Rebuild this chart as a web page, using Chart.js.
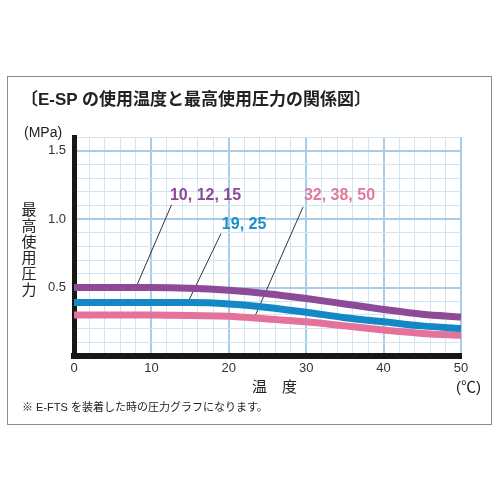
<!DOCTYPE html>
<html>
<head>
<meta charset="utf-8">
<script src="https://cdn.jsdelivr.net/npm/chart.js@4"></script>
<style>
    body { margin: 0; background: #fff; font-family: 'Liberation Sans', 'Noto Sans CJK JP', sans-serif; color: #222; }
    #wrap { position: relative; width: 500px; height: 500px; overflow: hidden; }
    #frame { position: absolute; left: 7px; top: 76px; width: 483px; height: 347px; border: 1px solid #8c8c8c; }
    canvas { position: absolute; left: 0; top: 0; }
    .txt { position: absolute; white-space: nowrap; line-height: 1; }
    #title { left: 21px; top: 91px; font-size: 17px; font-weight: bold; color: #222; }
    #unitY { left: 24px; top: 125px; font-size: 14px; }
    #nameY { left: 21px; top: 202px; font-size: 15px; line-height: 16px; width: 16px; text-align: center; white-space: normal; }
    #nameX { left: 252px; top: 379px; font-size: 15px; }
    #unitX { left: 456px; top: 379px; font-size: 15px; }
    #note { left: 22px; top: 402px; font-size: 11px; }
</style>
</head>
<body>
<div id="wrap">
    <div id="frame"></div>
    <canvas id="chart" width="500" height="500"></canvas>
    <div class="txt" id="title">〔E-SP の使用温度と最高使用圧力の関係図〕</div>
    <div class="txt" id="unitY">(MPa)</div>
    <div class="txt" id="nameY">最<br>高<br>使<br>用<br>圧<br>力</div>
    <div class="txt" id="nameX">温　度</div>
    <div class="txt" id="unitX">(℃)</div>
    <div class="txt" id="note">※ E-FTS を装着した時の圧力グラフになります。</div>
</div>
<script>
// Chart data
const temps = [0, 5, 10, 15, 20, 25, 30, 35, 40, 45, 50];
const pressureSmall = [0.50, 0.50, 0.50, 0.495, 0.48, 0.455, 0.42, 0.38, 0.34, 0.305, 0.285];   // 10, 12, 15
const pressureMid = [0.39, 0.39, 0.39, 0.39, 0.38, 0.355, 0.32, 0.28, 0.25, 0.22, 0.20];         // 19, 25
const pressureLarge = [0.30, 0.30, 0.30, 0.295, 0.29, 0.27, 0.25, 0.22, 0.19, 0.165, 0.15];     // 32, 38, 50
const seriesNames = ['10, 12, 15', '19, 25', '32, 38, 50'];
const xTickLabels = [0, 10, 20, 30, 40, 50];
const yTickLabels = [0.5, 1.0, 1.5];

const colors = ['#8c4a98', '#1487c6', '#e4729a'];
const labelColors = ['#8c4a98', '#1c8fc6', '#e27a9c'];

// label position and leader line, in data units
const callouts = [
    { label: [12.4, 1.17], from: [12.6, 1.105], to: [8.0, 0.50] },
    { label: [19.1, 0.96], from: [19.0, 0.895], to: [14.7, 0.39] },
    { label: [29.7, 1.17], from: [29.6, 1.09], to: [23.3, 0.28] }
];

const series = [pressureSmall, pressureMid, pressureLarge];

const calloutPlugin = {
    id: 'callouts',
    beforeDatasetsDraw(chart) {
        const { ctx, scales: { x, y } } = chart;
        ctx.save();
        ctx.strokeStyle = '#333';
        ctx.lineWidth = 1;
        callouts.forEach(c => {
            ctx.beginPath();
            ctx.moveTo(x.getPixelForValue(c.from[0]), y.getPixelForValue(c.from[1]));
            ctx.lineTo(x.getPixelForValue(c.to[0]), y.getPixelForValue(c.to[1]));
            ctx.stroke();
        });
        ctx.restore();
    },
    afterDatasetsDraw(chart) {
        const { ctx, scales: { x, y } } = chart;
        ctx.save();
        ctx.font = 'bold 16px "Liberation Sans", Arial, sans-serif';
        ctx.textBaseline = 'middle';
        ctx.textAlign = 'left';
        callouts.forEach((c, i) => {
            ctx.fillStyle = labelColors[i];
            ctx.fillText(seriesNames[i], x.getPixelForValue(c.label[0]), y.getPixelForValue(c.label[1]));
        });
        ctx.restore();
    }
};

const minorGrid = '#d0e4f4';
const majorGrid = '#a8cdea';

new Chart(document.getElementById('chart'), {
    type: 'line',
    data: {
        datasets: series.map((vals, i) => ({
            label: seriesNames[i],
            data: temps.map((t, j) => ({ x: t, y: vals[j] })),
            borderColor: colors[i],
            borderWidth: 7,
            pointRadius: 0,
            fill: false,
            cubicInterpolationMode: 'monotone'
        }))
    },
    options: {
        responsive: false,
        animation: false,
        layout: { padding: { left: 0, top: 137, right: 39, bottom: 0 } },
        plugins: {
            legend: { display: false },
            tooltip: { enabled: false }
        },
        scales: {
            x: {
                type: 'linear',
                min: 0,
                max: 50,
                afterFit: scale => { scale.height = 144; },
                ticks: {
                    stepSize: 2,
                    autoSkip: false,
                    maxRotation: 0,
                    padding: 5,
                    color: '#333',
                    font: { size: 13, family: '"Liberation Sans", Arial, sans-serif' },
                    callback: v => xTickLabels.includes(v) ? String(v) : ''
                },
                grid: {
                    drawTicks: false,
                    color: ctx => ctx.tick && ctx.tick.value % 10 === 0 ? majorGrid : minorGrid,
                    lineWidth: ctx => ctx.tick && ctx.tick.value % 10 === 0 ? 2 : 1
                },
                border: { color: '#1b1616', width: 6 }
            },
            y: {
                min: 0,
                max: 1.6,
                afterFit: scale => { scale.width = 74; },
                ticks: {
                    stepSize: 0.1,
                    autoSkip: false,
                    padding: 8,
                    color: '#333',
                    font: { size: 13, family: '"Liberation Sans", Arial, sans-serif' },
                    callback: v => yTickLabels.some(t => Math.abs(t - v) < 1e-6) ? v.toFixed(1) : ''
                },
                grid: {
                    drawTicks: false,
                    color: ctx => ctx.tick && Math.round(ctx.tick.value * 10) % 5 === 0 ? majorGrid : minorGrid,
                    lineWidth: ctx => ctx.tick && Math.round(ctx.tick.value * 10) % 5 === 0 ? 2 : 1
                },
                border: { color: '#1b1616', width: 5 }
            }
        }
    },
    plugins: [calloutPlugin]
});
</script>
</body>
</html>
